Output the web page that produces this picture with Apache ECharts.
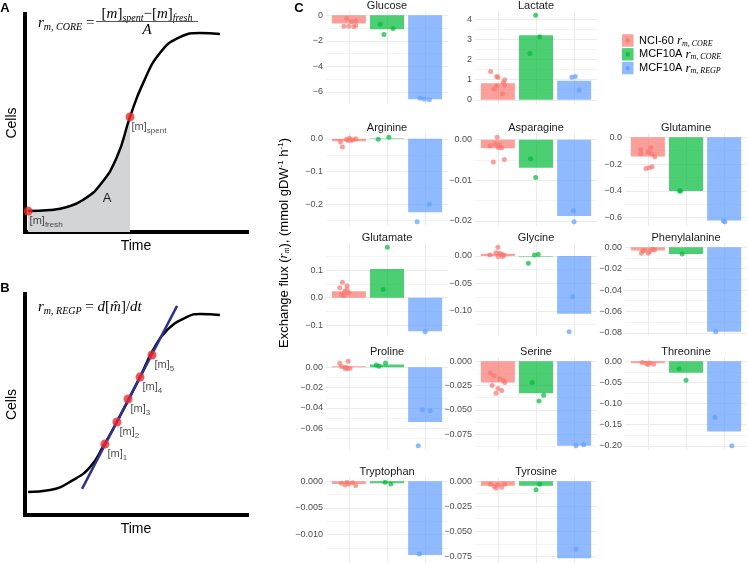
<!DOCTYPE html>
<html>
<head>
<meta charset="utf-8">
<script src="https://cdn.jsdelivr.net/npm/echarts@6/dist/echarts.min.js"></script>
<style>
  html, body { margin: 0; padding: 0; background: #fff; overflow: hidden; }
  /* canvas a bit taller than the window so the bottom facet row keeps its full height */
  #chart { width: 748px; height: 600px; }
</style>
</head>
<body>
<div id="chart"></div>
<script>
// ---- panels A / B : schematic growth curves (time, cells), arbitrary units 0-100 ----
var curveA = [[1.4, 9.6], [11.3, 10.1], [18.9, 11.5], [26.1, 14.7], [33.8, 21.6], [41.4, 34.4],
  [47.3, 52.8], [53.2, 68.3], [60.8, 82.1], [69.8, 89.4], [78.8, 91.3], [87.8, 90.8]];
var shadedA = curveA.slice(0, 7);
var pointsA = [[1.4, 9.6], [47.3, 52.8]];
var pointLabelsA = ['fresh', 'spent'];

var curveB = [[1.4, 10.4], [11.3, 11.3], [21.6, 15.8], [29.3, 21.7], [35.1, 30.8], [41.4, 42.1],
  [51.8, 62.4], [57.7, 74.7], [64.0, 83.7], [73.0, 89.6], [78.8, 91.0], [87.8, 90.5]];
var fitLineB = [[25.7, 11.8], [68.5, 94.6]];
var samplesB = [[36.0, 32.1], [41.4, 42.1], [46.4, 52.5], [51.8, 62.4], [57.2, 72.4]];
var sampleLabelsB = ['1', '2', '3', '4', '5'];

// ---- panel C : exchange fluxes ----
var metabolites = ['Glucose', 'Lactate', 'Arginine', 'Asparagine', 'Glutamine', 'Glutamate', 'Glycine',
  'Phenylalanine', 'Proline', 'Serine', 'Threonine', 'Tryptophan', 'Tyrosine'];
var groupNames = ['NCI-60', 'MCF10A', 'MCF10A'];
var groupSubs = ['m, CORE', 'm, CORE', 'm, REGP'];

var barNCI  = [-0.65, 0.82, -0.007, -0.0021, -0.143, 0.024, 0.004, -0.003, 0.0008, -0.022, -0.005, -0.0005, -0.0045];
var barCore = [-1.09, 3.21, 0.002, -0.0069, -0.40, 0.105, -0.001, -0.0063, 0.0026, -0.033, -0.027, -0.0004, -0.0045];
var barRegp = [-6.57, 0.94, -0.225, -0.0188, -0.62, -0.122, -0.105, -0.079, -0.0536, -0.087, -0.166, -0.0138, -0.077];

// points: [jitter offset from group centre, value]
var ptsNCI = [
  [[-0.06, -0.26], [0.07, -0.52], [0.18, -0.44], [-0.13, -0.86], [0, -0.86], [0.13, -0.91], [0.18, -0.8]],
  [[-0.19, 1.40], [-0.03, 1.15], [0, 1.12], [0.18, 0.99], [0.14, 0.86], [-0.03, 0.69], [-0.1, 0.53], [0.12, 0.30], [0.18, 0.74]],
  [[-0.22, -0.010], [-0.17, -0.025], [0.02, 0.002], [-0.02, -0.005], [0.11, -0.003], [0.18, 0.0], [-0.06, -0.001], [0.06, -0.004]],
  [[-0.02, 0.0006], [-0.21, -0.0015], [-0.08, -0.001], [0.01, -0.0019], [0.1, -0.002], [0.04, -0.0013], [-0.12, -0.0055], [0.17, -0.0049]],
  [[-0.19, -0.093], [-0.19, -0.123], [0.08, -0.078], [0.01, -0.11], [0.1, -0.123], [0.18, -0.146], [-0.05, -0.233], [0.04, -0.228], [0.11, -0.22]],
  [[-0.17, 0.056], [-0.24, 0.036], [-0.05, 0.044], [-0.11, 0.024], [-0.2, 0.012], [-0.13, 0.008], [0, 0.018], [-0.05, 0.03]],
  [[0, 0.016], [-0.21, 0.002], [-0.05, 0.006], [0.04, 0.005], [0.1, 0.003], [0.16, 0.002], [0.01, -0.001], [0.12, -0.001]],
  [[-0.17, -0.0056], [-0.08, -0.003], [0.05, -0.004], [0.12, -0.002], [0.01, -0.0056], [-0.13, -0.0033], [0.17, -0.0025]],
  [[-0.24, 0.0039], [-0.02, 0.0058], [-0.19, 0.0007], [-0.1, -0.001], [-0.04, -0.0016], [0.03, -0.001], [-0.08, 0]],
  [[-0.2, -0.012], [-0.1, -0.015], [0.05, -0.018], [0.15, -0.02], [-0.15, -0.025], [0, -0.028], [0.1, -0.03], [-0.05, -0.033], [0.18, -0.022]],
  [[-0.15, -0.003], [-0.05, -0.005], [0.05, -0.004], [0.15, -0.007], [0, -0.008]],
  [[-0.2, -0.0004], [-0.1, -0.0007], [0, -0.0005], [0.1, -0.0003], [0.18, -0.0008], [-0.05, -0.0002]],
  [[-0.2, -0.003], [-0.1, -0.005], [0, -0.004], [0.1, -0.006], [0.18, -0.003], [-0.05, -0.007]]
];
var ptsCore = [
  [[-0.18, -0.70], [-0.08, -1.5], [0.16, -1.04]],
  [[-0.01, 4.20], [0.1, 3.13], [-0.16, 2.30]],
  [[-0.23, -0.001], [0.05, 0.005]],
  [[-0.14, -0.0047], [-0.01, -0.0093]],
  [[-0.17, -0.40], [-0.14, -0.40]],
  [[0.01, 0.184], [-0.1, 0.030]],
  [[-0.04, 0.002], [0.06, 0.003], [-0.2, -0.013]],
  [[-0.1, -0.0063]],
  [[-0.28, 0.0022], [-0.21, 0.001], [-0.04, 0.0041]],
  [[-0.1, -0.022], [0.08, -0.041], [0.2, -0.035]],
  [[-0.18, -0.018], [0.0, -0.045]],
  [[-0.05, -0.0002], [0.1, -0.0005]],
  [[0.0, -0.0085], [0.1, -0.003]]
];
var ptsRegp = [
  [[-0.13, -6.5], [-0.02, -6.57], [0.11, -6.62]],
  [[-0.06, 1.12], [0.03, 1.15], [0.13, 0.49]],
  [[0.11, -0.2], [-0.21, -0.254]],
  [[-0.02, -0.0175], [0, -0.0202]],
  [[-0.02, -0.625], [0.02, -0.63]],
  [[0, -0.124]],
  [[-0.04, -0.074], [-0.13, -0.138]],
  [[-0.22, -0.079]],
  [[-0.07, -0.0417], [0.13, -0.0427], [-0.18, -0.077]],
  [[0.05, -0.087], [0.25, -0.086]],
  [[-0.24, -0.133], [0.2, -0.2]],
  [[-0.15, -0.0136], [0.1, -0.0158]],
  [[0.05, -0.068], [-0.1, -0.0845]]
];

var tickValues = [
  [-6, -4, -2, 0], [0, 1, 2, 3, 4], [-0.2, -0.1, 0], [-0.02, -0.01, 0], [-0.6, -0.4, -0.2, 0],
  [-0.1, 0, 0.1, 0.2], [-0.1, -0.05, 0], [-0.08, -0.06, -0.04, -0.02, 0], [-0.06, -0.04, -0.02, 0],
  [-0.075, -0.05, -0.025, 0], [-0.2, -0.15, -0.1, -0.05, 0], [-0.01, -0.005, 0], [-0.075, -0.05, -0.025, 0]
];
var tickDecimals = [0, 0, 1, 2, 1, 1, 2, 2, 2, 3, 2, 3, 3];

// facet layout
var panelRow = [0, 0, 1, 1, 1, 2, 2, 2, 3, 3, 3, 4, 4];
var panelCol = [0, 1, 0, 1, 2, 0, 1, 2, 0, 1, 2, 0, 1];
var colX = [326, 475, 625];
var rowY = [11, 133, 243, 357, 477];
var panelW = 122, panelH = 93;

var colors = ['#F8766D', '#00BA38', '#619CFF'];
var sans = 'Liberation Sans, Arial, sans-serif';
var serif = 'Liberation Serif, Times New Roman, serif';

var mathRich = {
  r: { fontFamily: serif, fontStyle: 'italic', fontSize: 15, color: '#1a1a1a' },
  s: { fontFamily: serif, fontStyle: 'italic', fontSize: 10, color: '#1a1a1a', padding: [8, 0, 0, 0] },
  e: { fontFamily: serif, fontSize: 15, color: '#1a1a1a' },
  i: { fontFamily: serif, fontStyle: 'italic', fontSize: 15, color: '#1a1a1a' }
};
var labelRich = {
  a: { fontFamily: sans, fontSize: 11, color: '#1a1a1a' },
  s: { fontFamily: sans, fontSize: 8, color: '#1a1a1a', padding: [7, 0, 0, 0] }
};

var grids = [], xAxes = [], yAxes = [], series = [], graphics = [];

function schematicAxes(g) {
  xAxes.push({
    gridIndex: g, type: 'value', min: 0, max: 100,
    axisLine: { show: true, lineStyle: { color: '#000', width: 4, cap: 'square' } },
    axisTick: { show: false }, axisLabel: { show: false }, splitLine: { show: false },
    name: 'Time', nameLocation: 'middle', nameGap: 7,
    nameTextStyle: { fontFamily: sans, fontSize: 14, color: '#000' }
  });
  yAxes.push({
    gridIndex: g, type: 'value', min: 0, max: 100,
    axisLine: { show: true, lineStyle: { color: '#000', width: 4, cap: 'square' } },
    axisTick: { show: false }, axisLabel: { show: false }, splitLine: { show: false },
    name: 'Cells', nameLocation: 'middle', nameGap: 6,
    nameTextStyle: { fontFamily: sans, fontSize: 14, color: '#000' }
  });
}

// panel A
grids.push({ left: 25, top: 14, width: 222, height: 218 });
schematicAxes(0);
series.push({
  type: 'line', xAxisIndex: 0, yAxisIndex: 0, data: shadedA, smooth: true, symbol: 'none',
  lineStyle: { width: 0 }, areaStyle: { color: '#D3D4D5', opacity: 1 }, z: 1, silent: true
});
series.push({
  type: 'line', xAxisIndex: 0, yAxisIndex: 0, data: curveA, smooth: true, symbol: 'none',
  lineStyle: { color: '#000', width: 2.5 }, z: 3
});
series.push({
  type: 'scatter', xAxisIndex: 0, yAxisIndex: 0, symbolSize: 9, z: 5,
  itemStyle: { color: '#EE2B2B' },
  data: pointsA.map(function (p, k) { return { value: p, name: pointLabelsA[k] }; }),
  label: {
    show: true, position: 'right', distance: 0, offset: [-3, 10],
    formatter: function (p) { return '{a|[m]}{s|' + p.name + '}'; }, rich: labelRich
  }
});

// panel B
grids.push({ left: 25, top: 294, width: 222, height: 221 });
schematicAxes(1);
series.push({
  type: 'line', xAxisIndex: 1, yAxisIndex: 1, data: curveB, smooth: true, symbol: 'none',
  lineStyle: { color: '#000', width: 2.5 }, z: 3
});
series.push({
  type: 'line', xAxisIndex: 1, yAxisIndex: 1, data: fitLineB, symbol: 'none',
  lineStyle: { color: '#2E3192', width: 2.5 }, z: 4
});
series.push({
  type: 'scatter', xAxisIndex: 1, yAxisIndex: 1, symbolSize: 9, z: 5,
  itemStyle: { color: '#EE2B2B' },
  data: samplesB.map(function (p, k) { return { value: p, name: sampleLabelsB[k] }; }),
  label: {
    show: true, position: 'right', distance: 0, offset: [-2, 10],
    formatter: function (p) { return '{a|[m]}{s|' + p.name + '}'; }, rich: labelRich
  }
});

// panel C facets
function fmt(dec) {
  return function (v) { return (+v).toFixed(dec).replace('-', '\u2212'); };
}

metabolites.forEach(function (name, i) {
  var g = grids.length;
  var left = colX[panelCol[i]], top = rowY[panelRow[i]];
  grids.push({ left: left, top: top, width: panelW, height: panelH });

  var bars = [barNCI[i], barCore[i], barRegp[i]];
  var pts = [ptsNCI[i], ptsCore[i], ptsRegp[i]];
  var all = [0].concat(bars);
  pts.forEach(function (grp) { grp.forEach(function (q) { all.push(q[1]); }); });
  var lo = Math.min.apply(null, all), hi = Math.max.apply(null, all);
  var pad = (hi - lo) * 0.05;
  var ymin = lo - pad, ymax = hi + pad;

  var ticks = tickValues[i];
  var step = ticks[1] - ticks[0];
  var minor = [];
  for (var k = -1; k < ticks.length; k++) {
    var v = k < 0 ? ticks[0] - step / 2 : ticks[k] + step / 2;
    if (v > ymin && v < ymax) minor.push(v);
  }

  var xi = xAxes.length;
  xAxes.push({ gridIndex: g, type: 'value', min: 0.4, max: 3.6, show: false });
  var yi = yAxes.length;
  yAxes.push({
    gridIndex: g, type: 'value', min: ymin, max: ymax,
    axisLine: { show: false },
    axisTick: { show: false, customValues: ticks },
    axisLabel: {
      customValues: ticks, formatter: fmt(tickDecimals[i]),
      fontFamily: sans, fontSize: 9, color: '#4D4D4D', margin: 3
    },
    splitLine: { show: true, lineStyle: { color: '#EBEBEB', width: 1 } }
  });
  yAxes.push({
    gridIndex: g, type: 'value', min: ymin, max: ymax, position: 'left',
    axisLine: { show: false },
    axisTick: { show: false, customValues: minor },
    axisLabel: { show: false },
    splitLine: { show: true, lineStyle: { color: '#F4F4F4', width: 1 } }
  });

  series.push({
    type: 'bar', xAxisIndex: xi, yAxisIndex: yi, barWidth: 34, z: 2,
    data: bars.map(function (b, j) {
      return { value: [j + 1, b], itemStyle: { color: colors[j], opacity: 0.7 } };
    }),
    markLine: {
      silent: true, symbol: 'none', z: 1, label: { show: false },
      lineStyle: { color: '#EBEBEB', width: 1, type: 'solid' },
      data: [{ xAxis: 1 }, { xAxis: 2 }, { xAxis: 3 }]
    }
  });
  var sdata = [];
  pts.forEach(function (grp, j) {
    grp.forEach(function (q) {
      sdata.push({ value: [j + 1 + q[0], q[1]], itemStyle: { color: colors[j], opacity: 0.7 } });
    });
  });
  series.push({
    type: 'scatter', xAxisIndex: xi, yAxisIndex: yi, symbolSize: 5, z: 3, data: sdata
  });

  graphics.push({
    type: 'text', x: left + panelW / 2, y: top - 5.5, z: 100,
    style: { text: name, align: 'center', verticalAlign: 'middle', fontFamily: sans, fontSize: 11, fill: '#1a1a1a' }
  });
});

// formulas
graphics.push({
  type: 'text', x: 38, y: 23, z: 100,
  style: { text: '{r|r}{s|m, CORE}{e| =}', rich: mathRich, verticalAlign: 'middle' }
});
graphics.push({
  type: 'text', x: 147, y: 14, z: 100,
  style: {
    text: '{e|[}{i|m}{e|]}{s|spent}{e|\u2212[}{i|m}{e|]}{s|fresh}', rich: mathRich,
    align: 'center', verticalAlign: 'middle'
  }
});
graphics.push({
  type: 'line', z: 100, shape: { x1: 96, y1: 21.5, x2: 198, y2: 21.5 },
  style: { stroke: '#555', lineWidth: 1 }
});
graphics.push({
  type: 'text', x: 147, y: 30, z: 100,
  style: { text: '{i|A}', rich: mathRich, align: 'center', verticalAlign: 'middle' }
});
graphics.push({
  type: 'text', x: 107, y: 198, z: 100,
  style: { text: 'A', align: 'center', verticalAlign: 'middle', fontFamily: sans, fontSize: 13, fill: '#1a1a1a' }
});
graphics.push({
  type: 'text', x: 38, y: 307, z: 100,
  style: { text: '{r|r}{s|m, REGP}{e| = }{i|d}{e|[}{i|m\u0302}{e|]/}{i|dt}', rich: mathRich, verticalAlign: 'middle' }
});

// panel letters
[['A', 5, 8], ['B', 5, 288], ['C', 299, 8]].forEach(function (p) {
  graphics.push({
    type: 'text', x: p[1], y: p[2], z: 100,
    style: { text: p[0], align: 'center', verticalAlign: 'middle', fontFamily: sans, fontSize: 13, fontWeight: 'bold', fill: '#000' }
  });
});

// y axis title of C
graphics.push({
  type: 'text', x: 284, y: 243, rotation: Math.PI / 2, z: 100,
  style: {
    text: '{t|Exchange flux (}{r|r}{s|m}{t|), (mmol gDW}{p|-1}{t| h}{p|-1}{t|)}',
    align: 'center', verticalAlign: 'middle',
    rich: {
      t: { fontFamily: sans, fontSize: 13, color: '#1a1a1a' },
      r: { fontFamily: serif, fontStyle: 'italic', fontSize: 13, color: '#1a1a1a' },
      s: { fontFamily: serif, fontStyle: 'italic', fontSize: 8, color: '#1a1a1a', padding: [6, 0, 0, 0] },
      p: { fontFamily: sans, fontSize: 8, color: '#1a1a1a', padding: [0, 0, 6, 0] }
    }
  }
});

// legend
groupNames.forEach(function (n, j) {
  var cy = 40.5 + j * 13.8;
  graphics.push({
    type: 'rect', z: 100, shape: { x: 622, y: cy - 6.2, width: 11.5, height: 12.4 },
    style: { fill: colors[j], opacity: 0.7 }
  });
  graphics.push({
    type: 'circle', z: 101, shape: { cx: 627.75, cy: cy, r: 2.2 },
    style: { fill: colors[j], opacity: 0.8 }
  });
  graphics.push({
    type: 'text', x: 639, y: cy, z: 100,
    style: {
      text: '{t|' + n + ' }{r|r}{s|' + groupSubs[j] + '}', verticalAlign: 'middle',
      rich: {
        t: { fontFamily: sans, fontSize: 11, color: '#1a1a1a' },
        r: { fontFamily: serif, fontStyle: 'italic', fontSize: 13, color: '#1a1a1a' },
        s: { fontFamily: serif, fontStyle: 'italic', fontSize: 8, color: '#1a1a1a', padding: [6, 0, 0, 0] }
      }
    }
  });
});

var chart = echarts.init(document.getElementById('chart'));
chart.setOption({
  animation: false,
  backgroundColor: '#fff',
  grid: grids,
  xAxis: xAxes,
  yAxis: yAxes,
  series: series,
  graphic: graphics
});
</script>
</body>
</html>
